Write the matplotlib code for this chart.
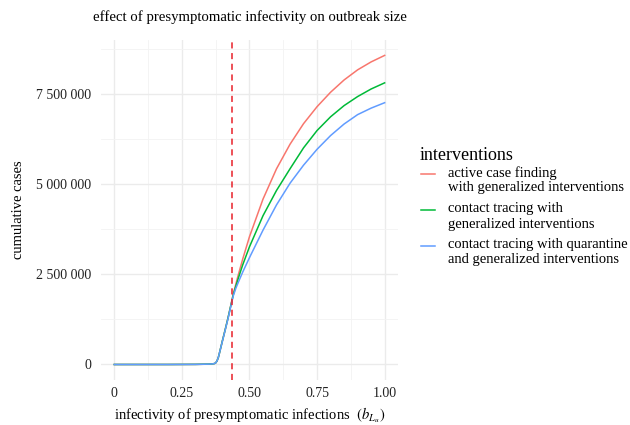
import numpy as np
import matplotlib
matplotlib.use("Agg")
import matplotlib.pyplot as plt
from matplotlib.lines import Line2D
from matplotlib.ticker import FuncFormatter, MultipleLocator

plt.rcParams['font.family'] = ['Liberation Serif', 'DejaVu Serif']
plt.rcParams['mathtext.fontset'] = 'stix'

# presymptomatic infectivity (x) and cumulative cases (millions)
infectivity = [0, 0.1, 0.2, 0.3, 0.35, 0.36, 0.37, 0.375, 0.38, 0.385, 0.39, 0.40,
               0.41, 0.42, 0.43, 0.44, 0.45, 0.46, 0.475, 0.5, 0.55, 0.6, 0.65,
               0.7, 0.75, 0.8, 0.85, 0.9, 0.95, 1.0]
active_case = [0, 0, 0, 0.003, 0.01, 0.015, 0.025, 0.045, 0.1, 0.2, 0.35, 0.66,
               0.96, 1.27, 1.61, 1.95, 2.24, 2.52, 2.92, 3.54, 4.58, 5.42, 6.1,
               6.67, 7.14, 7.54, 7.88, 8.16, 8.38, 8.56]
contact_tracing = [0, 0, 0, 0.003, 0.01, 0.015, 0.025, 0.045, 0.1, 0.2, 0.35, 0.66,
                   0.96, 1.27, 1.6, 1.93, 2.18, 2.42, 2.76, 3.26, 4.12, 4.82, 5.42,
                   6.0, 6.48, 6.86, 7.17, 7.42, 7.63, 7.8]
contact_quarantine = [0, 0, 0, 0.003, 0.01, 0.015, 0.025, 0.045, 0.1, 0.2, 0.35, 0.65,
                      0.95, 1.25, 1.58, 1.9, 2.12, 2.3, 2.56, 2.96, 3.72, 4.42, 5.02,
                      5.52, 5.96, 6.34, 6.66, 6.92, 7.1, 7.25]
series_names = [['active case finding', 'with generalized interventions'],
                ['contact tracing with', 'generalized interventions'],
                ['contact tracing with quarantine', 'and generalized interventions']]
series_colors = ['#F8766D', '#00BA38', '#619CFF']
threshold = 0.437

W, H = 630, 425
fig = plt.figure(figsize=(W / 100, H / 100), dpi=100)
ax = fig.add_axes([0.160, 0.106, 0.472, 0.800])

x = np.array(infectivity)
for vals, col in zip([active_case, contact_tracing, contact_quarantine], series_colors):
    ax.plot(x, np.array(vals) * 1e6, color=col, lw=1.1)

ax.axvline(threshold, color='#E8202A', lw=1.1, ls=(0, (4, 3)))

ax.set_xlim(-0.05, 1.05)
ax.set_ylim(-0.428e6, 8.988e6)
ax.set_xticks([0, 0.25, 0.5, 0.75, 1.0])
ax.set_xticklabels(['0', '0.25', '0.50', '0.75', '1.00'])
ax.xaxis.set_minor_locator(MultipleLocator(0.125))
ax.yaxis.set_major_locator(MultipleLocator(2.5e6))
ax.yaxis.set_minor_locator(MultipleLocator(1.25e6))
ax.yaxis.set_major_formatter(FuncFormatter(lambda v, p: f'{int(v):,}'.replace(',', ' ')))

ax.grid(which='major', color='#ebebeb', lw=1.0)
ax.grid(which='minor', color='#f3f3f3', lw=0.6)
ax.set_axisbelow(True)
for s in ax.spines.values():
    s.set_visible(False)
ax.tick_params(which='both', length=0, labelsize=10, colors='#222222')
ax.tick_params(axis='x', pad=5)
ax.tick_params(axis='y', pad=7)

ax.set_title('effect of presymptomatic infectivity on outbreak size', fontsize=10.6, pad=14)
ax.set_xlabel(r'infectivity of presymptomatic infections  $(b_{L_u})$', fontsize=10.5, labelpad=4)
ax.set_ylabel('cumulative cases', fontsize=10.5, labelpad=8)

# legend drawn by hand so the key sits by the first line of each label
fig.text(420 / W, 1 - 155 / H, 'interventions', fontsize=13, va='center', ha='left')
for i, (lines, col) in enumerate(zip(series_names, series_colors)):
    y1 = 173 + 36 * i
    fig.add_artist(Line2D([421 / W, 435 / W], [1 - (y1 + 1) / H] * 2, color=col, lw=1.1,
                          transform=fig.transFigure))
    for j, t in enumerate(lines):
        fig.text(448 / W, 1 - (y1 + 15 * j) / H, t, fontsize=10.5, va='center', ha='left')

fig.savefig('out.png', dpi=100)
